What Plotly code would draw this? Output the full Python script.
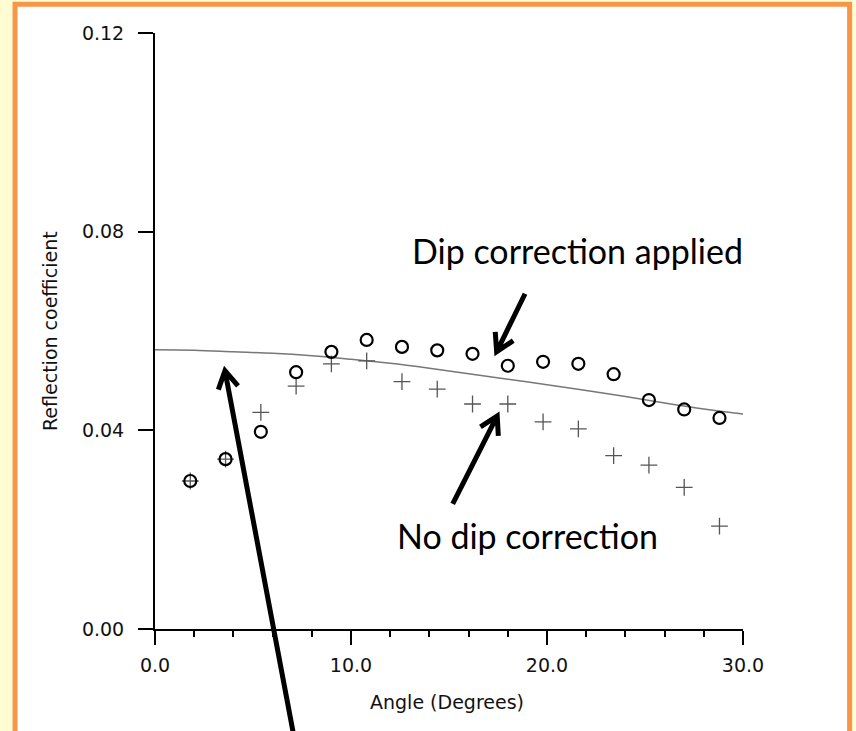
import math
import plotly.graph_objects as go

# Incidence angles (degrees) of the measured picks
angles = [1.8, 3.6, 5.4, 7.2, 9.0, 10.8, 12.6, 14.4, 16.2, 18.0,
          19.8, 21.6, 23.4, 25.2, 27.0, 28.8]

# Reflection coefficient with dip correction applied (open circles)
refl_dip_corrected = [0.0298, 0.0342, 0.0397, 0.0517, 0.0558, 0.0582, 0.0568, 0.0561,
                      0.0554, 0.0530, 0.0538, 0.0534, 0.0513, 0.0461, 0.0442, 0.0425]

# Reflection coefficient without dip correction (crosses)
refl_no_correction = [0.0298, 0.0342, 0.0436, 0.0489, 0.0534, 0.0540, 0.0498, 0.0483,
                      0.0453, 0.0453, 0.0417, 0.0403, 0.0349, 0.0330, 0.0285, 0.0207]

# Theoretical reflection coefficient curve
model_angles = [0, 2, 4, 6, 8, 10, 12, 14, 16, 18, 20, 22, 24, 26, 28, 30]
model_refl = [0.0562, 0.0561, 0.0558, 0.0555, 0.0550, 0.0543, 0.0535, 0.0525,
              0.0514, 0.0503, 0.0492, 0.0480, 0.0468, 0.0455, 0.0443, 0.0433]

x_ticks = [0, 10, 20, 30]
y_ticks = [0.00, 0.04, 0.08, 0.12]

X_RANGE = (0, 30)
Y_RANGE = (0, 0.12)
W, H = 856, 731
MARGIN = dict(l=155, r=113, t=33, b=102)
PW = W - MARGIN["l"] - MARGIN["r"]
PH = H - MARGIN["t"] - MARGIN["b"]

AXIS_FONT = dict(family="DejaVu Sans", size=19, color="#111111")
NOTE_FONT = dict(family="Lato", size=34, color="#000000")


def to_paper(x, y):
    return ((x - X_RANGE[0]) / (X_RANGE[1] - X_RANGE[0]),
            (y - Y_RANGE[0]) / (Y_RANGE[1] - Y_RANGE[0]))


def arrow_path(tail, tip, arm=20.0, spread=30.0):
    """Straight arrow with an open V head, given data-space tail and tip."""
    tx, ty = to_paper(*tail)
    hx, hy = to_paper(*tip)
    # work in pixel space so the head keeps its shape
    dx, dy = (tx - hx) * PW, (ty - hy) * PH
    n = math.hypot(dx, dy)
    ux, uy = dx / n, dy / n
    pts = []
    for s in (spread, -spread):
        a = math.radians(s)
        rx = ux * math.cos(a) - uy * math.sin(a)
        ry = ux * math.sin(a) + uy * math.cos(a)
        pts.append((hx + rx * arm / PW, hy + ry * arm / PH))
    (ax, ay), (bx, by) = pts
    return (f"M {tx},{ty} L {hx},{hy} "
            f"M {ax},{ay} L {hx},{hy} L {bx},{by}")


fig = go.Figure()

fig.add_trace(go.Scatter(
    x=model_angles, y=model_refl, mode="lines", line_shape="spline",
    line=dict(color="#777777", width=1.5), showlegend=False, hoverinfo="skip"))

fig.add_trace(go.Scatter(
    x=angles, y=refl_no_correction, mode="markers",
    marker=dict(symbol="cross-thin-open", size=12, color="#555555",
                line=dict(color="#555555", width=1.3)),
    showlegend=False))

fig.add_trace(go.Scatter(
    x=angles, y=refl_dip_corrected, mode="markers",
    marker=dict(symbol="circle-open", size=12, color="#000000",
                line=dict(color="#000000", width=2.2)),
    showlegend=False))

# framed white panel on a cream page
fx0, _ = to_paper(-7.14, 0)
fx1, _ = to_paper(35.44, 0)
_, fy1 = to_paper(0, 0.1258)
_, fy0 = to_paper(0, -0.03)
shapes = [dict(type="rect", xref="paper", yref="paper", layer="below",
               x0=fx0, x1=fx1, y0=fy0, y1=fy1,
               fillcolor="#FFFFFF", line=dict(color="#F79646", width=5))]

# pointer arrows
arrows = [
    ((18.88, 0.0675), (17.43, 0.0558)),
    ((15.19, 0.0252), (17.46, 0.0429)),
    ((7.20, -0.0240), (3.57, 0.0520)),
]
for tail, tip in arrows:
    shapes.append(dict(type="path", xref="paper", yref="paper",
                       path=arrow_path(tail, tip),
                       line=dict(color="#000000", width=5)))

annotations = [
    dict(x=21.58, y=0.0762, xref="x", yref="y", text="Dip correction applied",
         showarrow=False, font=NOTE_FONT, xanchor="center", yanchor="middle"),
    dict(x=19.03, y=0.0188, xref="x", yref="y", text="No dip correction",
         showarrow=False, font=NOTE_FONT, xanchor="center", yanchor="middle"),
    dict(x=14.88, y=-0.122, xref="x", yref="paper", text="Angle (Degrees)",
         showarrow=False, font=AXIS_FONT, xanchor="center", yanchor="middle"),
    dict(x=-0.1786, y=0.5, xref="paper", yref="paper", text="Reflection coefficient",
         showarrow=False, font=AXIS_FONT, textangle=-90,
         xanchor="center", yanchor="middle"),
]

fig.update_layout(
    width=W, height=H, margin=MARGIN,
    paper_bgcolor="#FFFCD3", plot_bgcolor="#FFFFFF",
    shapes=shapes, annotations=annotations,
    xaxis=dict(range=list(X_RANGE), tickvals=x_ticks, tickformat=".1f",
               showgrid=False, zeroline=False, showline=True,
               linecolor="#000000", linewidth=2,
               ticks="outside", ticklen=14, tickwidth=2, tickcolor="#000000",
               ticklabelstandoff=4, tickfont=AXIS_FONT,
               minor=dict(dtick=2, ticks="outside", ticklen=6, tickwidth=2,
                          tickcolor="#000000", showgrid=False)),
    yaxis=dict(range=list(Y_RANGE), tickvals=y_ticks, tickformat=".2f",
               showgrid=False, zeroline=False, showline=True,
               linecolor="#000000", linewidth=2,
               ticks="outside", ticklen=15, tickwidth=2, tickcolor="#000000",
               ticklabelstandoff=10, tickfont=AXIS_FONT),
)

fig.write_html("out.html")
